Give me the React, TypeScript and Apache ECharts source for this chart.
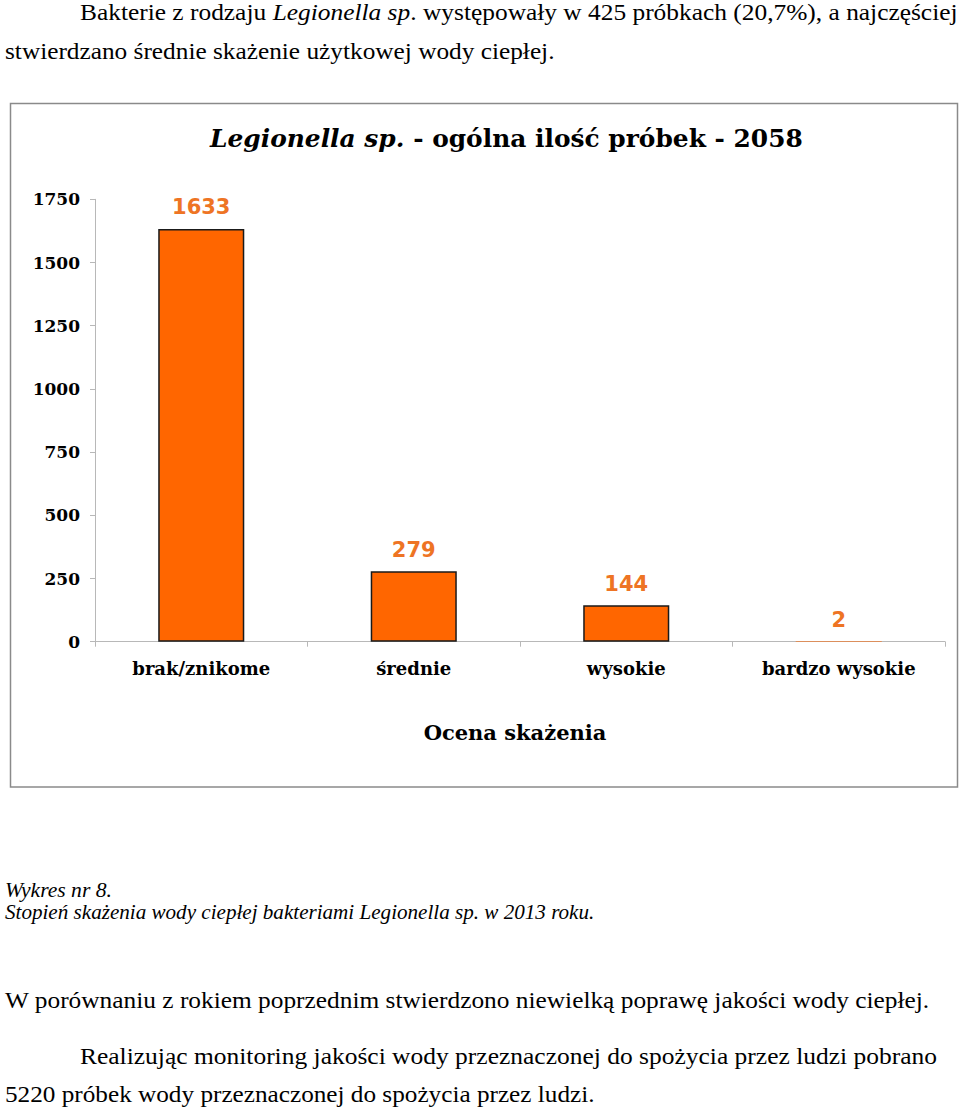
import React, { useEffect, useRef } from "react";
import * as echarts from "echarts";

const categories = ["brak/znikome", "średnie", "wysokie", "bardzo wysokie"];
const sampleCounts = [1633, 279, 144, 2];
const yMax = 1750;
const yStep = 250;
const chartTitleItalic = "Legionella sp.";
const chartTitleRest = " - ogólna ilość próbek - 2058";
const axisName = "Ocena skażenia";

const para1a = "Bakterie z rodzaju ";
const para1b = "Legionella sp";
const para1c = ". występowały w 425 próbkach (20,7%), a najczęściej";
const para2 = "stwierdzano średnie skażenie użytkowej wody ciepłej.";
const caption1 = "Wykres nr 8.";
const caption2 = "Stopień skażenia wody ciepłej bakteriami Legionella sp. w 2013 roku.";
const para3 = "W porównaniu z rokiem poprzednim stwierdzono niewielką poprawę jakości wody ciepłej.";
const para4 = "Realizując monitoring jakości wody przeznaczonej do spożycia przez ludzi pobrano";
const para5 = "5220 próbek wody przeznaczonej do spożycia przez ludzi.";

const SERIF = "Liberation Serif";
const BOOK = "DejaVu Serif";

function measure(text: string, font: string): number {
  const c = document.createElement("canvas");
  const ctx = c.getContext("2d");
  if (!ctx) return text.length * 10;
  ctx.font = font;
  return ctx.measureText(text).width;
}

export default function App() {
  const ref = useRef<HTMLDivElement>(null);

  useEffect(() => {
    if (!ref.current) return;
    const chart = echarts.init(ref.current, undefined, { renderer: "svg" });

    const bodySize = 23;
    const capSize = 20;
    const fN = `${bodySize}px ${SERIF}`;
    const fI = `italic ${bodySize}px ${SERIF}`;

    const textLine = (
      text: string,
      x: number,
      y: number,
      targetW: number,
      size: number,
      italic: boolean
    ) => {
      const w = measure(text, `${italic ? "italic " : ""}${size}px ${SERIF}`);
      return {
        type: "text",
        x,
        y,
        scaleX: targetW / w,
        style: {
          text,
          fontFamily: SERIF,
          fontSize: size,
          fontStyle: italic ? "italic" : "normal",
          fill: "#000",
          align: "left",
          verticalAlign: "middle",
        },
      };
    };

    const w1 =
      measure(para1a, fN) + measure(para1b, fI) + measure(para1c, fN);

    const titleSize = 24;
    const wt =
      measure(chartTitleItalic, `italic bold ${titleSize}px ${BOOK}`) +
      measure(chartTitleRest, `bold ${titleSize}px ${BOOK}`);

    const option: any = {
      animation: false,
      backgroundColor: "#fff",
      grid: {
        left: 95,
        right: 15,
        top: 199.3,
        bottom: 1115 - 641.7,
        containLabel: false,
      },
      xAxis: {
        type: "category",
        data: categories,
        name: axisName,
        nameLocation: "middle",
        nameGap: 80,
        nameTextStyle: {
          fontFamily: BOOK,
          fontWeight: "bold",
          fontSize: 21,
          color: "#000",
          padding: [0, 10, 0, 0],
        },
        axisLine: { lineStyle: { color: "#b8b8b8", width: 1 } },
        axisTick: { show: true, length: 5, lineStyle: { color: "#b8b8b8" } },
        axisLabel: {
          margin: 18,
          fontFamily: BOOK,
          fontWeight: "bold",
          fontSize: 18,
          color: "#000",
        },
      },
      yAxis: {
        type: "value",
        min: 0,
        max: yMax,
        interval: yStep,
        axisLine: { show: true, lineStyle: { color: "#b8b8b8", width: 1 } },
        axisTick: { show: true, length: 5, lineStyle: { color: "#b8b8b8" } },
        splitLine: { show: false },
        axisLabel: {
          margin: 15,
          formatter: (v: number) => String(v),
          fontFamily: BOOK,
          fontWeight: "bold",
          fontSize: 17,
          color: "#000",
        },
      },
      series: [
        {
          type: "bar",
          data: sampleCounts.map((v) => ({
            value: v,
            itemStyle: v < 5 ? { borderWidth: 0 } : undefined,
          })),
          barWidth: "40.5%",
          itemStyle: {
            color: "#FF6600",
            borderColor: "#1a1a1a",
            borderWidth: 1.5,
          },
          label: {
            show: true,
            position: "top",
            distance: 11,
            fontFamily: "DejaVu Sans",
            fontWeight: "bold",
            fontSize: 21,
            color: "#EE7424",
          },
        },
      ],
      graphic: [
        {
          type: "rect",
          shape: { x: 10.5, y: 103.5, width: 947, height: 683.5 },
          style: { fill: "none", stroke: "#8a8a8a", lineWidth: 1.5 },
          silent: true,
        },
        {
          type: "text",
          x: 210,
          y: 139,
          scaleX: 593 / wt,
          style: {
            text: `{i|${chartTitleItalic}}{b|${chartTitleRest}}`,
            verticalAlign: "middle",
            align: "left",
            rich: {
              i: {
                fontFamily: BOOK,
                fontSize: titleSize,
                fontWeight: "bold",
                fontStyle: "italic",
                fill: "#000",
              },
              b: {
                fontFamily: BOOK,
                fontSize: titleSize,
                fontWeight: "bold",
                fill: "#000",
              },
            },
          },
        },
        {
          type: "text",
          x: 80,
          y: 12,
          scaleX: 878 / w1,
          style: {
            text: `{n|${para1a}}{i|${para1b}}{n|${para1c}}`,
            verticalAlign: "middle",
            align: "left",
            rich: {
              n: {
                fontFamily: SERIF,
                fontSize: bodySize,
                lineHeight: 20,
                fill: "#000",
              },
              i: {
                fontFamily: SERIF,
                fontSize: bodySize,
                lineHeight: 20,
                fontStyle: "italic",
                fill: "#000",
              },
            },
          },
        },
        textLine(para2, 5, 51, 550, bodySize, false),
        textLine(caption1, 5, 890, 107, capSize, true),
        textLine(caption2, 5, 912, 590, capSize, true),
        textLine(para3, 5, 1000, 925, bodySize, false),
        textLine(para4, 80, 1056, 858, bodySize, false),
        textLine(para5, 5, 1094, 590, bodySize, false),
      ],
    };

    chart.setOption(option);
    return () => chart.dispose();
  }, []);

  return (
    <div
      ref={ref}
      style={{
        position: "absolute",
        left: 0,
        top: 0,
        width: 960,
        height: 1115,
        background: "#fff",
      }}
    />
  );
}
